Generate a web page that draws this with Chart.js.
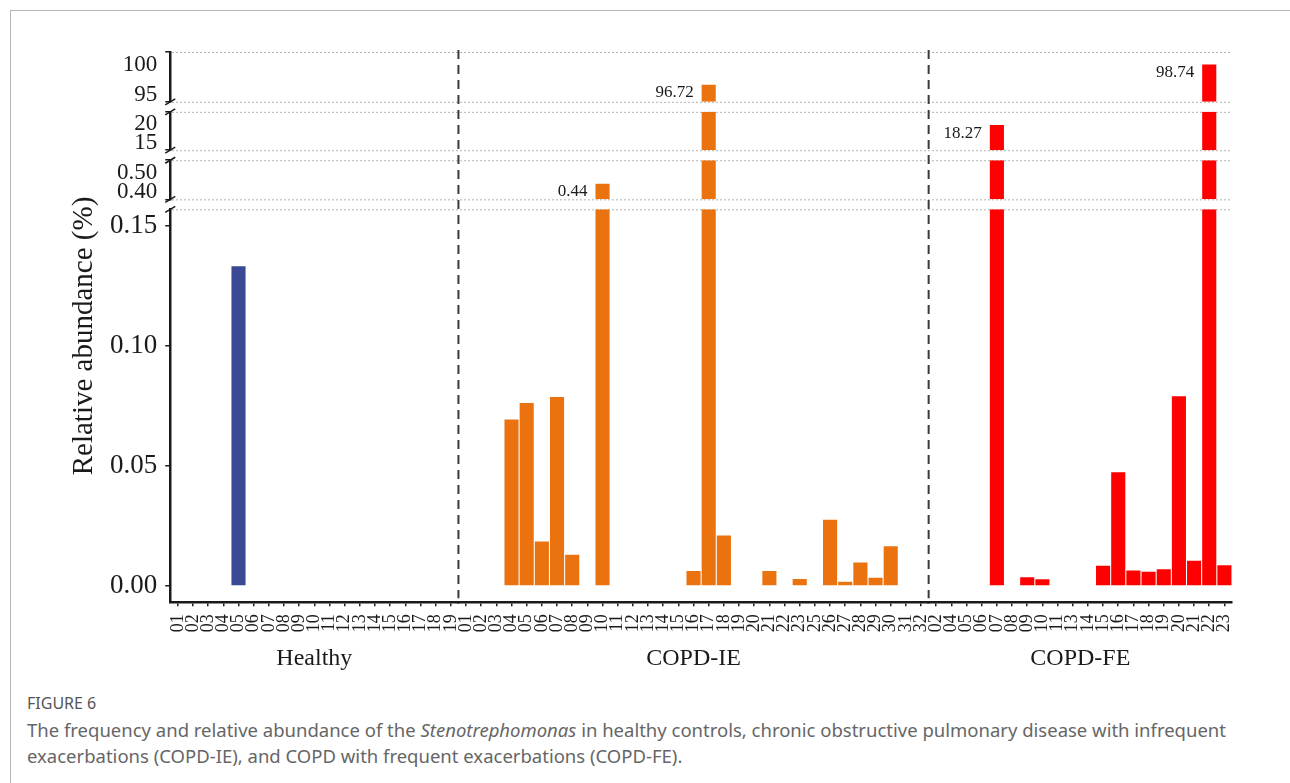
<!DOCTYPE html>
<html><head><meta charset="utf-8">
<script src="https://cdn.jsdelivr.net/npm/chart.js@4/dist/chart.umd.min.js"></script>
<style>
html,body{margin:0;padding:0;background:#fff;width:1290px;height:783px;overflow:hidden;}
#card{position:absolute;left:10px;top:10px;width:1400px;height:900px;border-top:1.5px solid #b5b5b5;border-left:1.5px solid #b5b5b5;}
#wrap{position:absolute;left:0;top:0;width:1290px;height:680px;}
#fig{position:absolute;left:27px;top:692px;font-family:'Noto Sans',sans-serif;font-size:16px;color:#555;}
#cap{position:absolute;left:27px;top:717px;font-family:'Noto Sans',sans-serif;font-size:18.5px;line-height:26px;color:#666;white-space:nowrap;}
</style></head>
<body>
<div id="card"></div>
<div id="wrap"><canvas id="c" width="1290" height="680"></canvas></div>
<div id="fig">FIGURE 6</div>
<div id="cap">The frequency and relative abundance of the <i>Stenotrephomonas</i> in healthy controls, chronic obstructive pulmonary disease with infrequent<br>exacerbations (COPD-IE), and COPD with frequent exacerbations (COPD-FE).</div>
<script>
// ---------- DATA ----------
const healthyLabels = ['01','02','03','04','05','06','07','08','09','10','11','12','13','14','15','16','17','18','19'];
const healthyValues = [0,0,0,0,0.133,0,0,0,0,0,0,0,0,0,0,0,0,0,0];

const ieLabels = ['01','02','03','04','05','06','07','08','09','10','11','12','13','14','15','16','17','18','19','20','21','22','23','25','26','27','28','29','30','31','32'];
const ieValues = [0,0,0,0.0693,0.0762,0.0185,0.0787,0.0130,0,0.44,0,0,0,0,0,0.0063,96.72,0.0210,0,0,0.0063,0,0.0030,0,0.0276,0.0018,0.0098,0.0035,0.0166,0,0];

const feLabels = ['02','04','05','06','07','08','09','10','11','13','14','15','16','17','18','19','20','21','22','23'];
const feValues = [0,0,0,0,18.27,0,0.0037,0.0028,0,0,0,0.0085,0.0473,0.0065,0.0060,0.0070,0.0790,0.0105,98.74,0.0087];

const groupNames = ['Healthy','COPD-IE','COPD-FE'];
const groupColors = ['#3B4994','#EB730F','#FF0000'];

// broken y axis segments (bottom -> top)
const segMin = [-0.0067, 0.40, 15, 95];
const segMax = [0.1567, 0.50, 20, 100];
const segTickValues = [[0,0.05,0.10,0.15],[0.40,0.50],[15,20],[95,100]];
const segTickLabels = [['0.00','0.05','0.10','0.15'],['0.40','0.50'],['15','20'],['95','100']];

const yTitle = 'Relative abundance (%)';

// ---------- BUILD ----------
const groups = [
  {id:'xH', labels: healthyLabels, values: healthyValues},
  {id:'xIE', labels: ieLabels, values: ieValues},
  {id:'xFE', labels: feLabels, values: feValues}
];
const SERIF = "'Liberation Serif','Times New Roman',serif";
const INK = '#1a1a1a';
const BAR_PCT = 0.93;

const datasets = [];
groups.forEach((g, p) => {
  for (let s = 0; s < segMin.length; s++) {
    const lo = Math.max(0, segMin[s]);
    datasets.push({
      label: groupNames[p] + ' ' + s,
      xAxisID: g.id,
      yAxisID: 'y' + s,
      grouped: false,
      backgroundColor: groupColors[p],
      borderWidth: 0,
      barPercentage: BAR_PCT,
      categoryPercentage: 1,
      data: g.values.map(v => v > lo ? [lo, Math.min(v, segMax[s])] : null)
    });
  }
});

const scales = {};
// weight controls top-to-bottom order; stackWeight = pixel share of each segment / gap
const segPix = [392, 39, 38.3, 49.7];
const gapPix = 10;
for (let s = 0; s < segMin.length; s++) {
  scales['y' + s] = {
    type: 'linear', axis: 'y', position: 'left', stack: 'ys',
    stackWeight: segPix[s], weight: 2 * s + 1,
    min: segMin[s], max: segMax[s], stacked: false,
    afterBuildTicks: (sc) => { sc.ticks = segTickValues[s].map(v => ({value: v})); },
    ticks: {
      display: s === 0,
      callback: (val, i) => segTickLabels[s][i],
      font: {family: SERIF, size: 27}, color: INK, padding: 8
    },
    grid: {display: true, drawOnChartArea: false, drawTicks: true, tickLength: 5, color: INK, lineWidth: 1.5},
    border: {display: true, color: INK, width: 2.5}
  };
  if (s < segMin.length - 1) {
    scales['gap' + s] = {
      type: 'linear', axis: 'y', position: 'left', stack: 'ys',
      stackWeight: gapPix, weight: 2 * s + 2, min: 0, max: 1, display: false
    };
  }
}
groups.forEach((g, p) => {
  scales[g.id] = {
    type: 'category', axis: 'x', position: 'bottom', stack: 'xs',
    stackWeight: g.labels.length, weight: p + 1,
    labels: g.labels, offset: true,
    ticks: {autoSkip: false, maxRotation: 90, minRotation: 90, font: {family: SERIF, size: 18}, color: INK, padding: 8},
    grid: {display: true, drawOnChartArea: false, drawTicks: true, tickLength: 4, offset: false, color: INK, lineWidth: 1.5},
    border: {display: true, color: INK, width: 2.5},
    title: {display: true, text: groupNames[p], font: {family: SERIF, size: 24}, color: INK, padding: {top: 4, bottom: 0}}
  };
});

const decor = {
  id: 'decor',
  beforeDatasetsDraw(chart) {
    const ctx = chart.ctx, ca = chart.chartArea;
    ctx.save();
    ctx.strokeStyle = '#9a9a9a';
    ctx.lineWidth = 1;
    ctx.setLineDash([1.5, 2.5]);
    for (let s = 0; s < segMin.length; s++) {
      const sc = chart.scales['y' + s];
      const ys = s === 0 ? [sc.top] : [sc.top, sc.bottom];
      ys.forEach(y => {
        ctx.beginPath(); ctx.moveTo(ca.left + 2, y + 0.5); ctx.lineTo(ca.right, y + 0.5); ctx.stroke();
      });
    }
    ctx.restore();
  },
  afterDraw(chart) {
    const ctx = chart.ctx, ca = chart.chartArea;
    ctx.save();
    // dashed panel separators
    ctx.strokeStyle = '#3a3a3a';
    ctx.lineWidth = 2;
    ctx.setLineDash([9, 6]);
    ['xH', 'xIE'].forEach(id => {
      const x = chart.scales[id].right;
      ctx.beginPath(); ctx.moveTo(x, ca.top - 2); ctx.lineTo(x, ca.bottom - 4); ctx.stroke();
    });
    ctx.setLineDash([]);
    // axis break marks
    ctx.strokeStyle = INK;
    ctx.lineWidth = 1.5;
    for (let s = 0; s < segMin.length - 1; s++) {
      const gp = chart.scales['gap' + s];
      const x = ca.left;
      [gp.top, gp.bottom].forEach(y => {
        ctx.beginPath(); ctx.moveTo(x - 5, y + 3); ctx.lineTo(x + 5, y - 3); ctx.stroke();
      });
    }
    // upper segment tick labels
    ctx.fillStyle = INK;
    ctx.font = '23px ' + SERIF;
    ctx.textAlign = 'right';
    for (let s = 1; s < segMin.length; s++) {
      const sc = chart.scales['y' + s];
      sc.ticks.forEach((t, i) => {
        const y = sc.getPixelForValue(t.value);
        const label = segTickLabels[s][i];
        if (t.value >= segMax[s]) { ctx.textBaseline = 'top'; ctx.fillText(label, sc.right - 13, y + 1); }
        else { ctx.textBaseline = 'alphabetic'; ctx.fillText(label, sc.right - 13, y - 1); }
      });
    }
    // value labels for bars exceeding the lowest segment
    ctx.font = '17px ' + SERIF;
    ctx.textBaseline = 'middle';
    groups.forEach(g => {
      const xs = chart.scales[g.id];
      const step = xs.width / g.labels.length;
      g.values.forEach((v, j) => {
        if (v <= segMax[0]) return;
        let s = 1;
        while (s < segMin.length - 1 && v > segMax[s]) s++;
        const y = chart.scales['y' + s].getPixelForValue(v);
        const x = xs.getPixelForValue(j) - step * BAR_PCT / 2 - 8;
        ctx.fillText(v.toFixed(2), x, y + 8);
      });
    });
    // y title
    ctx.font = '29px ' + SERIF;
    ctx.textAlign = 'center';
    ctx.textBaseline = 'middle';
    ctx.translate(84, 336);
    ctx.rotate(-Math.PI / 2);
    ctx.fillText(yTitle, 0, 0);
    ctx.restore();
  }
};

new Chart(document.getElementById('c'), {
  type: 'bar',
  data: {datasets},
  options: {
    responsive: false,
    animation: false,
    layout: {padding: {top: 52, right: 58, left: 102, bottom: 7}},
    plugins: {legend: {display: false}, tooltip: {enabled: false}},
    scales
  },
  plugins: [decor]
});
</script>
</body></html>
